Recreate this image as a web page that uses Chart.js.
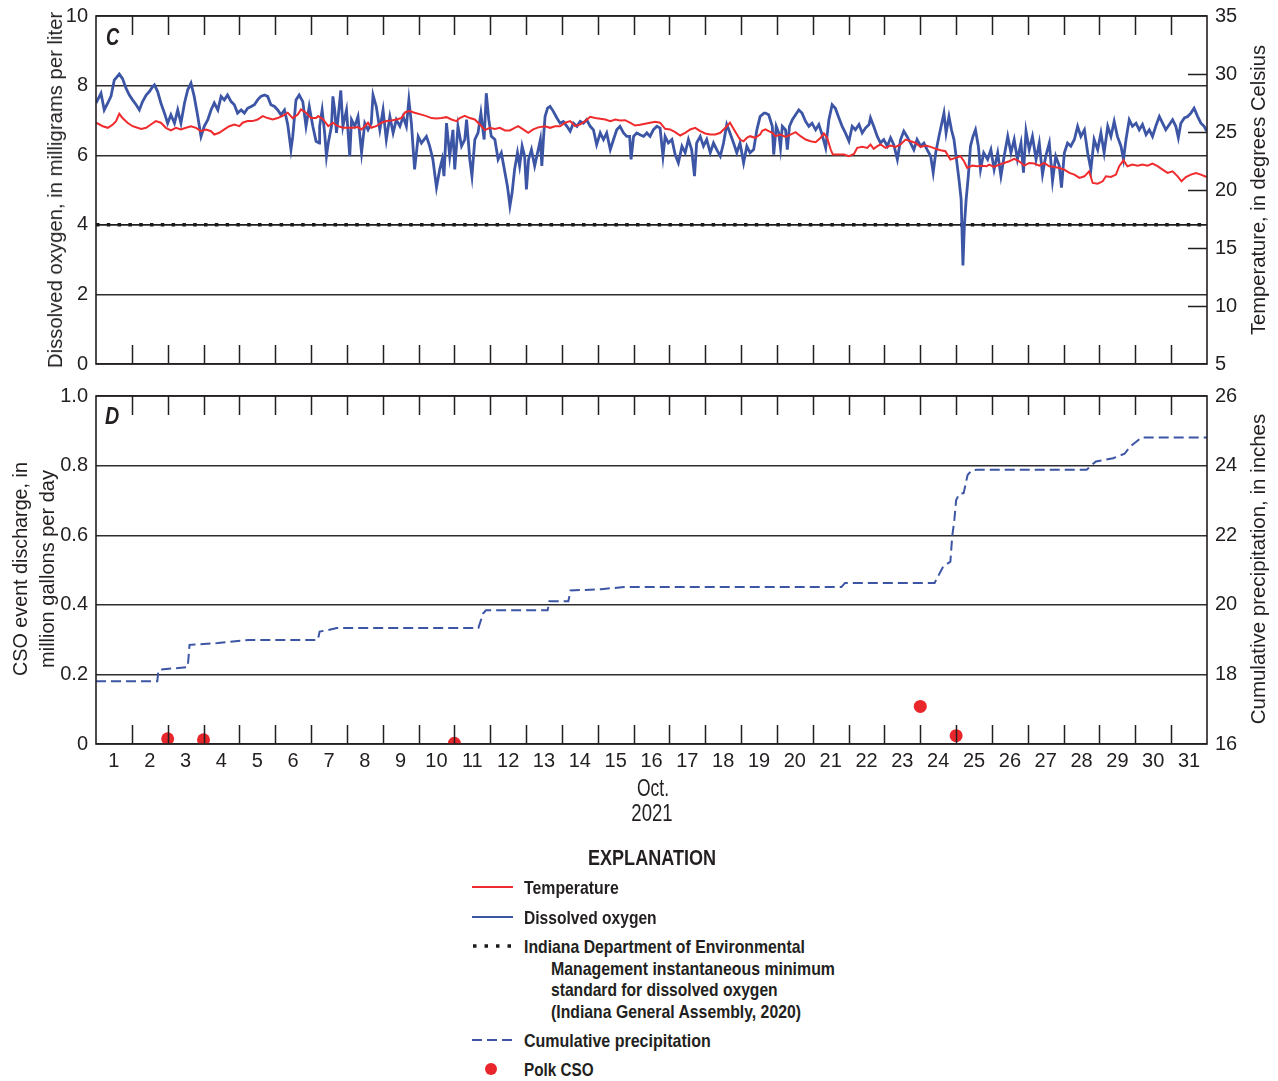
<!DOCTYPE html>
<html>
<head>
<meta charset="utf-8">
<script src="https://cdn.jsdelivr.net/npm/chart.js@4.4.1/dist/chart.umd.min.js"></script>
<style>
  html, body { margin: 0; padding: 0; background: #fff; }
  #page { position: relative; width: 1278px; height: 1081px; overflow: hidden;
          font-family: "Liberation Sans", Arial, sans-serif; color: #231f20; }
  canvas { position: absolute; left: 0; }
  .vt { position: absolute; white-space: nowrap; font-size: 20px; line-height: 1; }
  .ctr { position: absolute; white-space: nowrap; font-size: 24px; line-height: 1; }
  .panel { position: absolute; font-weight: bold; font-style: italic; font-size: 24px; line-height: 1; }
  .lg { position: absolute; white-space: nowrap; font-weight: bold; font-size: 19px; line-height: 1; transform-origin: 0 50%; }
  .sw { position: absolute; }
</style>
</head>
<body>
<div id="page">
  <canvas id="chartC" width="1278" height="380" style="top:0"></canvas>
  <canvas id="chartD" width="1278" height="460" style="top:380px"></canvas>

  <div class="panel" data-w="13" style="left:106px; top:37px">C</div>
  <div class="panel" data-w="14" style="left:105px; top:416px">D</div>

  <div class="vt" data-w="356" style="left:55px; top:190px">Dissolved oxygen, in milligrams per liter</div>
  <div class="vt" data-w="290" style="left:1258px; top:190px">Temperature, in degrees Celsius</div>
  <div class="vt" data-w="214" style="left:20px; top:569px">CSO event discharge, in</div>
  <div class="vt" data-w="198" style="left:47px; top:569px">million gallons per day</div>
  <div class="vt" data-w="311" style="left:1258px; top:569px">Cumulative precipitation, in inches</div>

  <div class="ctr" data-w="32" style="left:653px; top:788px">Oct.</div>
  <div class="ctr" data-w="41" style="left:652px; top:813px">2021</div>

  <div class="ctr" data-w="128" style="left:652px; top:858px; font-weight:bold; font-size:22px">EXPLANATION</div>

  <div class="sw" style="left:472px; top:886px; width:41px; border-top:2px solid #ef2b2d"></div>
  <div class="lg" data-w="95" style="left:524px; top:887px">Temperature</div>

  <div class="sw" style="left:472px; top:916px; width:41px; border-top:2px solid #3c55a5"></div>
  <div class="lg" data-w="133" style="left:524px; top:917px">Dissolved oxygen</div>

  <svg class="sw" style="left:470px; top:940px" width="46" height="12">
    <line x1="3" y1="6" x2="44" y2="6" stroke="#1a1a1a" stroke-width="3.5" stroke-dasharray="3.5 8"></line>
  </svg>
  <div class="lg" data-w="281" style="left:524px; top:946px">Indiana Department of Environmental</div>
  <div class="lg" data-w="284" style="left:551px; top:968px">Management instantaneous minimum</div>
  <div class="lg" data-w="227" style="left:551px; top:989px">standard for dissolved oxygen</div>
  <div class="lg" data-w="250" style="left:551px; top:1011px">(Indiana General Assembly, 2020)</div>

  <svg class="sw" style="left:470px; top:1034px" width="46" height="12">
    <line x1="2" y1="6" x2="44" y2="6" stroke="#3c55a5" stroke-width="2" stroke-dasharray="10 5"></line>
  </svg>
  <div class="lg" data-w="187" style="left:524px; top:1040px">Cumulative precipitation</div>

  <svg class="sw" style="left:484px; top:1062px" width="14" height="14">
    <circle cx="7" cy="7" r="6" fill="#e8262b"></circle>
  </svg>
  <div class="lg" data-w="70" style="left:524px; top:1069px">Polk CSO</div>
</div>

<script>
// ---- Time axis: days of October 2021 (day 1.0 = Oct 1, 00:00) ----
const dayLabels = [1,2,3,4,5,6,7,8,9,10,11,12,13,14,15,16,17,18,19,20,21,22,23,24,25,26,27,28,29,30,31];

// ---- Panel C: dissolved oxygen (mg/L) ----
const doDay = [
  1.00,1.14,1.23,1.33,1.42,1.51,1.65,1.74,1.84,1.93,2.02,2.12,2.21,2.30,2.40,2.49,2.58,2.63,2.72,2.81,2.91,
  3.00,3.09,3.19,3.28,3.37,3.47,3.56,3.65,3.74,3.84,3.93,4.02,4.12,4.21,4.30,4.40,4.49,4.58,4.67,4.77,4.86,4.95,
  5.05,5.14,5.23,5.33,5.42,5.51,5.60,5.70,5.79,5.88,5.98,6.07,6.16,6.26,6.35,6.44,6.49,6.58,6.67,6.77,6.86,6.95,
  7.05,7.14,7.23,7.24,7.31,7.38,7.43,7.48,7.57,7.61,7.66,7.71,7.75,7.83,7.89,7.99,8.08,8.13,8.22,8.31,8.41,8.50,
  8.59,8.68,8.73,8.82,8.92,9.01,9.10,9.20,9.29,9.38,9.48,9.57,9.66,9.73,9.80,9.89,9.99,10.08,10.22,10.31,10.40,
  10.50,10.59,10.66,10.71,10.78,10.87,10.96,11.01,11.10,11.20,11.29,11.34,11.43,11.49,11.57,11.66,11.74,11.83,
  11.89,11.96,12.03,12.13,12.22,12.31,12.41,12.48,12.55,12.61,12.68,12.76,12.82,12.89,12.96,13.01,13.07,13.15,
  13.24,13.34,13.40,13.44,13.49,13.53,13.60,13.67,13.76,13.86,13.95,14.04,14.14,14.23,14.32,14.42,14.51,14.60,
  14.69,14.79,14.88,14.97,15.07,15.16,15.25,15.35,15.44,15.53,15.62,15.72,15.81,15.89,15.93,16.00,16.09,16.18,
  16.28,16.37,16.46,16.55,16.65,16.74,16.82,16.88,16.97,17.07,17.16,17.25,17.35,17.44,17.53,17.62,17.70,17.76,
  17.86,17.95,18.04,18.14,18.23,18.32,18.42,18.51,18.60,18.69,18.79,18.88,18.97,19.07,19.16,19.25,19.35,19.44,
  19.53,19.64,19.68,19.77,19.87,19.91,19.98,20.05,20.10,20.15,20.24,20.29,20.35,20.43,20.52,20.61,20.70,20.80,
  20.89,20.98,21.08,21.17,21.26,21.36,21.45,21.54,21.63,21.73,21.82,21.91,22.01,22.10,22.19,22.29,22.38,22.47,
  22.57,22.61,22.70,22.80,22.89,22.98,23.08,23.17,23.26,23.36,23.45,23.54,23.63,23.73,23.82,23.91,24.01,24.10,
  24.19,24.29,24.36,24.43,24.52,24.61,24.66,24.72,24.80,24.87,24.94,25.01,25.08,25.14,25.19,25.23,25.28,25.34,
  25.40,25.47,25.54,25.62,25.68,25.77,25.88,25.97,26.06,26.16,26.25,26.34,26.44,26.53,26.62,26.71,26.81,26.88,
  26.95,27.04,27.13,27.23,27.32,27.41,27.50,27.60,27.69,27.78,27.88,27.94,28.02,28.11,28.20,28.30,28.39,28.48,
  28.58,28.67,28.76,28.85,28.95,29.04,29.13,29.23,29.32,29.41,29.50,29.60,29.67,29.74,29.83,29.92,30.02,30.11,
  30.20,30.30,30.39,30.48,30.57,30.67,30.76,30.85,30.95,31.04,31.13,31.20,31.27,31.37,31.46,31.55,31.64,31.74,
  31.83,31.92,31.99
];
const doMgL = [
  7.50,7.78,7.30,7.50,7.70,8.16,8.33,8.20,7.92,7.73,7.59,7.45,7.30,7.54,7.73,7.83,7.97,8.02,7.83,7.50,7.21,
  6.92,7.16,6.92,7.30,6.92,7.50,7.88,8.07,7.69,7.11,6.54,6.83,7.02,7.30,7.50,7.30,7.69,7.59,7.73,7.54,7.45,7.21,
  7.30,7.21,7.35,7.40,7.45,7.59,7.69,7.73,7.69,7.45,7.40,7.30,7.16,7.30,6.88,6.16,6.54,7.59,7.73,7.54,6.83,7.40,
  6.83,6.40,6.35,6.83,7.30,6.64,5.97,6.35,6.83,7.69,7.30,6.64,7.02,7.86,6.83,7.30,5.97,7.02,6.83,7.11,6.07,6.92,
  6.73,6.92,7.73,7.40,6.73,7.30,6.45,7.11,6.64,7.02,6.83,7.11,6.83,7.59,6.92,5.59,6.54,6.35,6.54,6.26,5.88,
  5.07,5.59,5.88,5.40,6.92,5.97,6.73,5.59,6.83,6.26,6.45,7.02,5.88,5.40,6.45,6.64,7.21,6.45,
  7.78,7.02,6.54,6.45,5.88,6.07,5.50,5.11,4.54,4.92,5.59,6.07,5.69,6.26,5.97,5.02,5.88,6.16,
  5.69,6.16,6.45,5.69,6.54,7.11,7.35,7.40,7.26,7.07,6.92,6.97,6.83,6.69,6.92,6.83,6.97,6.92,
  7.02,6.83,6.73,6.30,6.64,6.45,6.64,6.16,6.45,6.73,6.83,6.64,6.54,6.54,5.88,6.54,6.64,6.59,
  6.54,6.64,6.54,6.73,6.83,6.78,5.97,6.54,6.35,6.45,6.02,5.78,6.26,6.07,6.45,6.16,5.40,6.35,
  6.54,6.26,6.45,6.07,6.35,6.16,5.97,6.35,6.88,6.64,6.35,6.07,6.35,5.78,6.26,6.07,6.16,6.73,
  7.11,7.21,7.21,7.16,6.83,6.02,6.83,6.64,6.21,6.83,6.73,6.16,6.83,7.02,7.16,7.30,7.21,6.97,
  6.83,6.92,6.73,6.88,6.59,6.21,7.02,7.45,7.35,7.07,6.83,6.64,6.40,6.83,6.73,6.88,6.64,6.78,
  6.88,7.07,6.83,6.54,6.35,6.45,6.26,6.50,6.30,5.88,6.45,6.69,6.54,6.35,6.16,6.45,6.26,6.35,
  6.16,5.97,5.50,6.07,6.54,6.97,7.21,6.64,7.11,6.73,6.45,5.88,5.30,4.73,2.83,3.97,4.73,5.40,
  6.26,6.54,6.73,6.26,5.59,6.07,5.88,6.16,5.59,6.07,5.40,5.97,6.54,6.07,6.45,5.88,6.35,5.50,
  6.69,6.16,6.54,5.88,6.35,5.45,5.97,6.35,5.26,5.97,5.69,5.07,6.07,6.35,6.26,6.45,6.83,6.54,
  6.73,6.07,5.59,6.45,6.16,6.64,6.07,6.83,6.54,6.97,6.54,6.26,5.88,6.45,7.02,6.83,6.92,6.73,
  6.88,6.59,6.73,6.54,6.83,7.11,6.92,6.73,6.88,7.02,6.83,6.50,6.92,7.07,7.11,7.21,7.35,7.11,
  6.92,6.83,6.69
];

// ---- Panel C: water temperature (degrees Celsius) ----
const tempDay = [
  1.00,1.19,1.33,1.47,1.56,1.65,1.74,1.88,2.02,2.16,2.26,2.40,2.53,2.67,2.81,2.95,3.09,3.23,3.37,3.51,3.65,3.79,
  3.93,4.07,4.21,4.30,4.44,4.58,4.72,4.86,5.00,5.09,5.23,5.37,5.51,5.65,5.79,5.93,6.07,6.21,6.35,6.49,6.63,6.72,
  6.86,7.00,7.14,7.20,7.34,7.48,7.61,7.75,7.89,8.03,8.17,8.31,8.41,8.50,8.59,8.68,8.82,8.96,9.10,9.24,9.38,9.52,
  9.63,9.75,9.89,10.08,10.22,10.36,10.50,10.64,10.78,10.92,11.06,11.15,11.29,11.43,11.57,11.71,11.85,11.99,
  12.13,12.27,12.41,12.55,12.68,12.78,12.92,13.06,13.20,13.34,13.53,13.67,13.81,13.95,14.09,14.23,14.37,14.51,
  14.65,14.79,14.93,15.07,15.21,15.35,15.49,15.62,15.76,15.90,16.04,16.18,16.32,16.46,16.60,16.74,16.88,17.02,
  17.16,17.30,17.44,17.58,17.72,17.86,18.00,18.14,18.28,18.42,18.56,18.69,18.83,18.97,19.07,19.16,19.25,19.39,
  19.53,19.59,19.68,19.77,19.87,19.96,20.10,20.24,20.38,20.52,20.66,20.80,20.94,21.08,21.22,21.31,21.40,21.50,
  21.56,21.73,21.87,22.01,22.15,22.24,22.38,22.52,22.61,22.70,22.80,22.89,23.03,23.17,23.31,23.45,23.59,23.73,
  23.87,24.01,24.15,24.29,24.43,24.57,24.70,24.84,24.98,25.12,25.22,25.31,25.45,25.59,25.73,25.85,25.92,26.06,
  26.20,26.34,26.48,26.62,26.76,26.90,27.04,27.18,27.32,27.46,27.60,27.74,27.88,28.02,28.16,28.30,28.44,28.58,
  28.71,28.81,28.95,29.09,29.18,29.32,29.46,29.55,29.67,29.78,29.92,30.06,30.20,30.34,30.48,30.62,30.76,30.90,
  31.04,31.18,31.29,31.41,31.55,31.69,31.83,31.99
];
const tempC = [
  25.80,25.50,25.36,25.65,25.94,26.57,26.20,25.80,25.50,25.36,25.27,25.36,25.65,25.94,25.80,25.36,25.13,25.36,25.22,25.36,25.50,25.36,
  25.07,25.22,25.07,24.78,24.93,25.22,25.50,25.65,25.50,25.80,25.94,25.94,26.08,26.37,26.20,26.08,26.20,26.40,26.66,26.20,26.50,26.95,
  26.66,26.20,26.20,26.37,26.08,25.50,25.80,25.50,25.36,25.36,25.36,25.42,25.22,25.50,25.80,25.36,25.50,25.80,25.94,26.00,26.08,26.20,
  26.71,26.80,26.66,26.50,26.37,26.20,26.16,26.20,26.28,26.08,25.94,26.20,26.40,26.20,26.08,25.65,25.16,25.36,
  25.27,25.36,25.13,25.13,25.36,25.50,25.22,24.93,25.22,25.40,25.50,25.36,25.50,25.50,25.80,25.94,25.50,25.65,
  25.94,26.31,26.20,26.14,26.08,25.94,26.08,26.00,26.02,25.80,25.56,25.62,25.71,25.80,25.88,25.80,25.27,25.22,
  24.99,24.70,24.93,25.22,25.36,25.07,24.87,24.78,24.78,24.93,25.36,25.80,25.07,24.35,24.20,24.50,24.64,24.50,
  24.78,25.10,25.22,25.07,24.93,24.64,24.78,24.58,24.78,24.99,24.64,24.35,24.20,24.12,24.50,24.87,24.50,23.49,
  23.05,23.05,23.05,22.91,23.11,23.63,23.72,23.63,23.92,23.55,23.78,23.92,23.63,23.83,23.72,23.92,24.35,24.20,
  24.06,23.72,23.83,23.72,23.55,23.43,23.34,22.62,22.77,22.91,22.48,21.90,22.10,22.05,22.10,22.05,22.19,21.99,
  22.19,22.33,22.48,22.68,22.48,22.10,22.33,22.28,22.10,22.33,22.05,21.99,21.90,21.76,21.47,21.33,21.04,21.18,
  21.61,20.61,20.55,20.75,21.18,21.12,21.33,22.05,22.56,22.05,22.19,22.10,22.19,22.10,22.28,22.05,21.76,21.47,
  21.61,21.18,20.75,21.12,21.33,21.47,21.33,21.12
];

// Indiana instantaneous minimum standard for dissolved oxygen (mg/L)
const doStandard = 4;

// ---- Panel D: cumulative precipitation (inches) ----
const precipDay = [1.00,2.71,2.74,2.80,3.56,3.61,4.40,5.27,7.19,7.24,7.45,7.72,11.67,11.80,11.88,13.60,13.65,14.18,14.24,
  15.10,15.73,21.80,21.90,24.40,24.64,24.84,24.89,24.95,25.00,25.09,25.21,25.32,25.43,25.59,28.64,28.90,29.38,29.70,29.86,30.18,32.00];
const precipIn = [17.80,17.80,18.10,18.14,18.21,18.85,18.90,18.99,18.99,19.23,19.27,19.33,19.33,19.75,19.84,19.84,20.10,20.10,20.41,
  20.45,20.51,20.51,20.63,20.63,21.10,21.24,21.96,22.44,23.01,23.19,23.21,23.73,23.86,23.88,23.88,24.12,24.21,24.34,24.55,24.81,24.81];

// ---- Panel D: Polk CSO event discharge (million gallons per day) ----
const csoDay = [3, 4, 11, 24, 25];
const csoMgd = [0.015, 0.012, 0.002, 0.108, 0.024];

// ---- Styling ----
const FONT = '"Liberation Sans", Arial, sans-serif';
const INK = '#231f20';
const GRID = '#2e2e2e';
const BLUE = '#3c55a5';
const RED = '#ef2b2d';
const DOT_RED = '#e8262b';
const TICK_LEN = 19;
const LEFT_W = 96, RIGHT_W = 71;

const pairs = (xs, ys) => xs.map((x, i) => ({ x, y: ys[i] }));

// inward tick marks on the frame plus the frame itself
const frameTicks = {
  id: 'frameTicks',
  afterDatasetsDraw(chart, args, opts) {
    const { ctx, chartArea: a, scales } = chart;
    ctx.save();
    ctx.strokeStyle = INK;
    ctx.lineWidth = 1.5;
    ctx.beginPath();
    dayLabels.slice(1).forEach(d => {
      const px = Math.round(scales.x.getPixelForValue(d)) + 0.5;
      ctx.moveTo(px, a.top); ctx.lineTo(px, a.top + TICK_LEN);
      ctx.moveTo(px, a.bottom); ctx.lineTo(px, a.bottom - TICK_LEN);
    });
    if (opts.rightTicks) {
      const s = scales[opts.rightAxis];
      opts.rightTicks.forEach(v => {
        const py = Math.round(s.getPixelForValue(v)) + 0.5;
        ctx.moveTo(a.right, py); ctx.lineTo(a.right - TICK_LEN, py);
      });
    }
    ctx.stroke();
    ctx.lineWidth = 1.6;
    ctx.strokeRect(a.left, a.top, a.right - a.left, a.bottom - a.top);
    ctx.restore();
  }
};

const tickFont = { family: FONT, size: 20 };

// fixed axis box sizes so both panels share the same plot area
function fixBox(w, h) {
  return s => {
    if (w !== null) s.width = w;
    if (h !== null) s.height = h;
    s.paddingTop = 0; s.paddingBottom = 0; s.paddingLeft = 0; s.paddingRight = 0;
  };
}

function yLeft(min, max, step, fmt) {
  return {
    type: 'linear', position: 'left', min, max,
    afterFit: fixBox(LEFT_W, null),
    ticks: { stepSize: step, padding: 8, color: INK, font: tickFont, callback: fmt },
    grid: { color: GRID, lineWidth: 1.4, drawTicks: false },
    border: { display: false }
  };
}
function yRight(min, max, step) {
  return {
    type: 'linear', position: 'right', min, max,
    afterFit: fixBox(RIGHT_W, null),
    ticks: { stepSize: step, padding: 8, color: INK, font: tickFont },
    grid: { drawOnChartArea: false, drawTicks: false },
    border: { display: false }
  };
}

Chart.defaults.animation = false;
Chart.defaults.font.family = FONT;

// ---- Panel C ----
new Chart(document.getElementById('chartC'), {
  type: 'line',
  data: {
    datasets: [
      { label: 'Temperature', yAxisID: 'yT', data: pairs(tempDay, tempC), borderColor: RED, borderWidth: 2, pointRadius: 0, tension: 0, order: 0 },
      { label: 'Dissolved oxygen', yAxisID: 'y', data: pairs(doDay, doMgL), borderColor: BLUE, borderWidth: 2.8, pointRadius: 0, tension: 0, order: 1 },
      { label: 'standard', yAxisID: 'y', data: [{ x: 1, y: doStandard }, { x: 32, y: doStandard }], borderColor: '#1a1a1a', borderWidth: 1.2, pointRadius: 0, order: 2 },
      { label: 'standard dots', yAxisID: 'y', data: [{ x: 1, y: doStandard }, { x: 32, y: doStandard }], borderColor: '#1a1a1a', borderWidth: 3.5, borderDash: [3.5, 7.3], borderCapStyle: 'butt', pointRadius: 0, order: 3 }
    ]
  },
  options: {
    responsive: false,
    devicePixelRatio: 1,
    layout: { padding: { top: 16, left: 0, right: 0, bottom: 0 } },
    plugins: { legend: { display: false }, tooltip: { enabled: false }, frameTicks: { rightAxis: 'yT', rightTicks: [10, 15, 20, 25, 30] } },
    scales: {
      x: { type: 'linear', min: 1, max: 32, afterFit: fixBox(null, 16),
           ticks: { display: false }, grid: { display: false }, border: { display: false } },
      y: yLeft(0, 10, 2),
      yT: yRight(5, 35, 5)
    }
  },
  plugins: [frameTicks]
});

// ---- Panel D ----
new Chart(document.getElementById('chartD'), {
  type: 'line',
  data: {
    datasets: [
      { type: 'scatter', label: 'Polk CSO', yAxisID: 'y', data: pairs(csoDay, csoMgd), backgroundColor: DOT_RED, borderColor: DOT_RED, pointRadius: 6.5, borderWidth: 0, order: 0 },
      { label: 'Cumulative precipitation', yAxisID: 'yP', data: pairs(precipDay, precipIn), borderColor: BLUE, borderWidth: 2, borderDash: [10, 5], pointRadius: 0, tension: 0, order: 1 }
    ]
  },
  options: {
    responsive: false,
    devicePixelRatio: 1,
    layout: { padding: { top: 16, left: 0, right: 0, bottom: 0 } },
    plugins: { legend: { display: false }, tooltip: { enabled: false }, frameTicks: {} },
    scales: {
      x: { type: 'linear', min: 1, max: 32, afterFit: fixBox(null, 96),
           afterBuildTicks: s => { s.ticks = dayLabels.map(d => ({ value: d + 0.5 })); },
           ticks: { padding: 5, color: INK, font: tickFont, autoSkip: false, maxRotation: 0, callback: v => String(Math.floor(v)) },
           grid: { display: false, drawTicks: false }, border: { display: false } },
      y: yLeft(0, 1, 0.2, v => (v === 0 ? '0' : v.toFixed(1))),
      yP: yRight(16, 26, 2)
    }
  },
  plugins: [frameTicks]
});

// condense the HTML text to the narrow lettering of the figure
function fitText() {
  document.querySelectorAll('[data-w]').forEach(el => {
    const k = Number(el.dataset.w) / el.offsetWidth;
    if (el.classList.contains('vt')) {
      el.style.transform = `translate(-50%, -50%) rotate(-90deg) scaleX(${k})`;
    } else if (el.classList.contains('ctr')) {
      el.style.transform = `translate(-50%, -50%) scaleX(${k})`;
    } else {
      el.style.transformOrigin = '0 50%';
      el.style.transform = `translateY(-50%) scaleX(${k})`;
    }
  });
}
fitText();
if (document.fonts && document.fonts.ready) document.fonts.ready.then(fitText);
</script>
</body>
</html>
